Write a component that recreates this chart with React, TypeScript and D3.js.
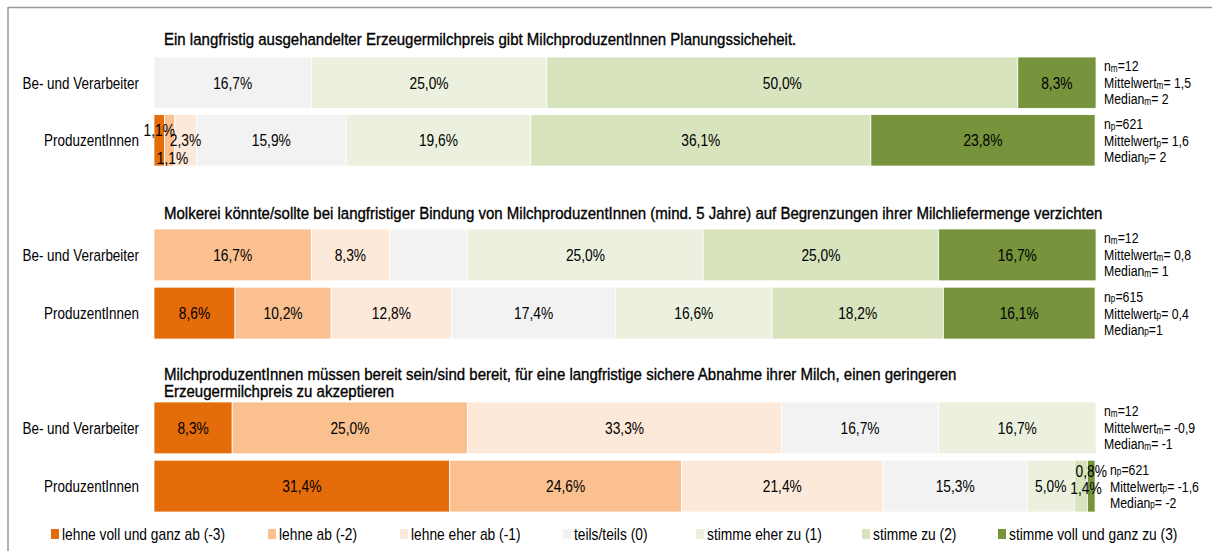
import React from "react";
import * as d3 from "d3";

const categories = [
  "lehne voll und ganz ab (-3)",
  "lehne ab (-2)",
  "lehne eher ab (-1)",
  "teils/teils (0)",
  "stimme eher zu (1)",
  "stimme zu (2)",
  "stimme voll und ganz zu (3)",
];
const colors = ["#E46C0A", "#FAC090", "#FDE9D9", "#F2F2F2", "#EBF1DE", "#D7E4BD", "#77933C"];
const groups = ["Be- und Verarbeiter", "ProduzentInnen"];
const titles = [
  ["Ein langfristig ausgehandelter Erzeugermilchpreis gibt MilchproduzentInnen Planungssicheheit."],
  ["Molkerei könnte/sollte bei langfristiger Bindung von MilchproduzentInnen (mind. 5 Jahre) auf Begrenzungen ihrer Milchliefermenge verzichten"],
  [
    "MilchproduzentInnen müssen bereit sein/sind bereit, für eine langfristige sichere Abnahme ihrer Milch, einen geringeren",
    "Erzeugermilchpreis zu akzeptieren",
  ],
];
const q1Verarbeiter = [0, 0, 0, 16.7, 25.0, 50.0, 8.3];
const q1Produzenten = [1.1, 1.1, 2.3, 15.9, 19.6, 36.1, 23.8];
const q2Verarbeiter = [0, 16.7, 8.3, 8.3, 25.0, 25.0, 16.7];
const q2Produzenten = [8.6, 10.2, 12.8, 17.4, 16.6, 18.2, 16.1];
const q3Verarbeiter = [8.3, 25.0, 33.3, 16.7, 16.7, 0, 0];
const q3Produzenten = [31.4, 24.6, 21.4, 15.3, 5.0, 1.4, 0.8];
const statsN = [["12", "621"], ["12", "615"], ["12", "621"]];
const statsMean = [["1,5", "1,6"], ["0,8", "0,4"], ["-0,9", "-1,6"]];
const statsMedian = [["2", "2"], ["1", "1"], ["-1", "-2"]];
const statsSub = ["m", "p"];

const questions = [
  [q1Verarbeiter, q1Produzenten],
  [q2Verarbeiter, q2Produzenten],
  [q3Verarbeiter, q3Produzenten],
];

// layout
const W = 1212;
const H = 551;
const FONT = "'Liberation Sans', Arial, sans-serif";
const SX = 0.82; // horizontal condensation to mimic Arial Narrow
const chartTop = [57, 229, 402];
const chartBottom = [166, 339, 512];
const titleY = [[39], [213], [374, 391]];
const hiddenLabels = new Set(["1-0-3"]);
const labelOffsets: Record<string, [number, number]> = {
  "0-1-0": [0, -10],
  "0-1-1": [3, 18],
  "2-1-5": [5, 2],
  "2-1-6": [0, -15],
};
const statsDx = [[0, 0], [0, 0], [0, 6]];
const legendX = [51, 268, 400, 563, 696, 862, 998];

const x = d3.scaleLinear().domain([0, 100]).range([154, 1096]);
const fmt = (v: number) => d3.format(".1f")(v).replace(".", ",") + "%";

function T({
  x,
  y,
  anchor = "start",
  size = 16.8,
  sx = SX,
  heavy = false,
  children,
}: {
  x: number;
  y: number;
  anchor?: string;
  size?: number;
  sx?: number;
  heavy?: boolean;
  children: React.ReactNode;
}) {
  return (
    <text
      transform={`translate(${x},${y}) scale(${sx},1)`}
      textAnchor={anchor}
      dominantBaseline="central"
      fontSize={size}
      fill="#000"
      stroke={heavy ? "#000" : "none"}
      strokeWidth={heavy ? 0.35 : 0}
    >
      {children}
    </text>
  );
}

function Sub({ base, sub, rest }: { base: string; sub: string; rest: string }) {
  return (
    <>
      <tspan>{base}</tspan>
      <tspan fontSize={10} dy={3}>{sub}</tspan>
      <tspan dy={-3}>{rest}</tspan>
    </>
  );
}

export default function App() {
  return (
    <div style={{ position: "absolute", left: 0, top: 0 }}>
      <svg width={W} height={H} style={{ display: "block", fontFamily: FONT }}>
        <rect x={0} y={0} width={W} height={H} fill="#fff" />
        <line x1={8} y1={7.5} x2={W} y2={7.5} stroke="#9a9a9a" strokeWidth={1.5} />
        <line x1={8} y1={7} x2={8} y2={H} stroke="#9a9a9a" strokeWidth={1.5} />
        {questions.map((rows, qi) => {
          const y = d3
            .scaleBand<string>()
            .domain(groups)
            .range([chartTop[qi], chartBottom[qi]])
            .paddingInner(0.11)
            .paddingOuter(0);
          return (
            <g key={qi}>
              {titles[qi].map((t, li) => (
                <T key={li} x={164} y={titleY[qi][li]} size={16.5} sx={0.91} heavy>
                  {t}
                </T>
              ))}
              {rows.map((vals, ri) => {
                const g = groups[ri];
                const y0 = y(g)!;
                const bh = y.bandwidth();
                const cy = y0 + bh / 2;
                const cum = d3.cumsum(vals);
                const sub = statsSub[ri];
                const sx = 1104 + statsDx[qi][ri];
                return (
                  <g key={ri}>
                    <T x={139} y={cy} anchor="end" size={16.4}>
                      {g}
                    </T>
                    {vals.map((v, ci) => {
                      if (v <= 0) return null;
                      const start = cum[ci] - v;
                      return (
                        <rect
                          key={ci}
                          x={x(start)}
                          y={y0}
                          width={x(cum[ci]) - x(start)}
                          height={bh}
                          fill={colors[ci]}
                          stroke="#fff"
                          strokeWidth={0.75}
                        />
                      );
                    })}
                    {vals.map((v, ci) => {
                      const key = `${qi}-${ri}-${ci}`;
                      if (v <= 0 || hiddenLabels.has(key)) return null;
                      const start = cum[ci] - v;
                      const off = labelOffsets[key] || [0, 0];
                      return (
                        <T
                          key={"l" + ci}
                          x={(x(start) + x(cum[ci])) / 2 + off[0]}
                          y={cy + off[1]}
                          anchor="middle"
                        >
                          {fmt(v)}
                        </T>
                      );
                    })}
                    <T x={sx} y={cy - 17} size={15}>
                      <Sub base="n" sub={sub} rest={"=" + statsN[qi][ri]} />
                    </T>
                    <T x={sx} y={cy} size={15}>
                      <Sub base="Mittelwert" sub={sub} rest={"= " + statsMean[qi][ri]} />
                    </T>
                    <T x={sx} y={cy + 16} size={15}>
                      <Sub base="Median" sub={sub} rest={(qi === 1 && ri === 1 ? "=" : "= ") + statsMedian[qi][ri]} />
                    </T>
                  </g>
                );
              })}
            </g>
          );
        })}
        {categories.map((c, i) => (
          <g key={c} transform={`translate(${legendX[i]},534)`}>
            <rect x={0} y={-5} width={8} height={10} fill={colors[i]} />
            <T x={11} y={0}>
              {c}
            </T>
          </g>
        ))}
      </svg>
    </div>
  );
}
